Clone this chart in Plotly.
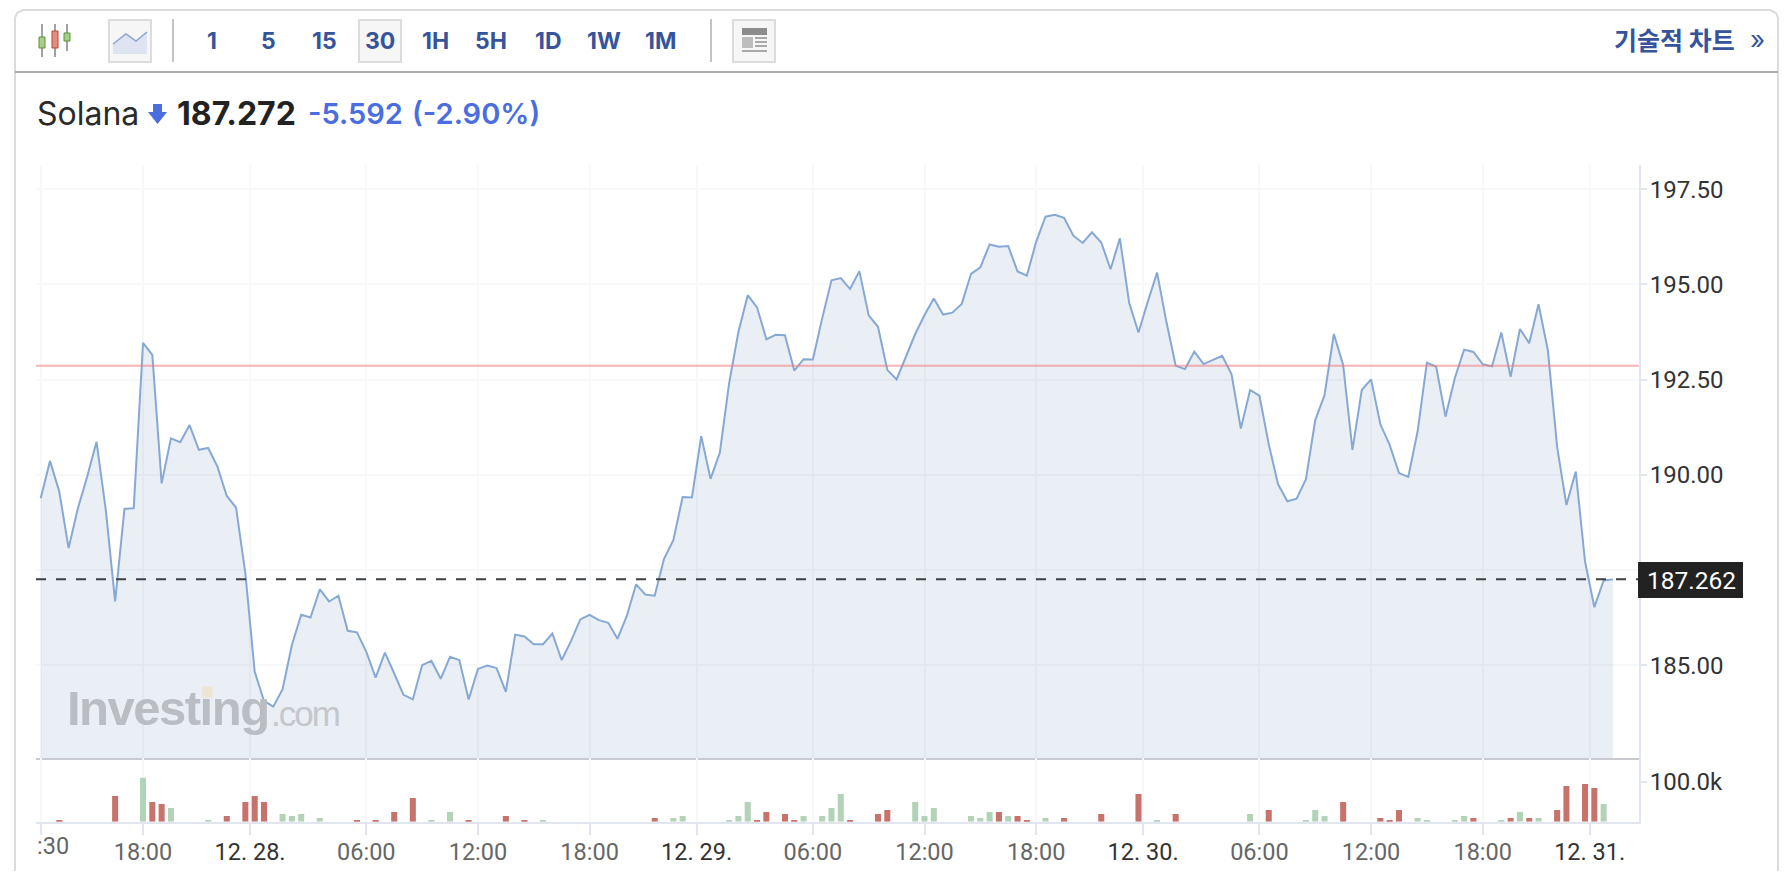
import plotly.graph_objects as go

# closing price, one value per 30 min candle (gaps in trading are not on the axis)
price = [189.39, 190.37, 189.56, 188.08, 189.13, 189.96, 190.87, 189.08, 186.68, 189.11,
         189.13, 193.47, 193.15, 189.78, 190.96, 190.86, 191.31, 190.66, 190.71, 190.22,
         189.45, 189.14, 187.42, 184.84, 184.07, 183.92, 184.38, 185.54, 186.33, 186.26,
         187.00, 186.68, 186.83, 185.91, 185.87, 185.36, 184.68, 185.34, 184.79, 184.23,
         184.11, 185.01, 185.12, 184.65, 185.23, 185.14, 184.11, 184.91, 185.00, 184.93,
         184.31, 185.81, 185.76, 185.56, 185.56, 185.84, 185.14, 185.64, 186.21, 186.33,
         186.19, 186.12, 185.70, 186.30, 187.13, 186.86, 186.83, 187.80, 188.29, 189.42,
         189.41, 191.02, 189.90, 190.59, 192.41, 193.76, 194.72, 194.40, 193.56, 193.68,
         193.67, 192.74, 193.04, 193.03, 194.11, 195.11, 195.17, 194.88, 195.35, 194.19,
         193.89, 192.76, 192.51, 193.11, 193.70, 194.20, 194.63, 194.21, 194.26, 194.49,
         195.28, 195.45, 196.05, 195.99, 196.01, 195.34, 195.23, 196.12, 196.78, 196.83,
         196.75, 196.28, 196.09, 196.37, 196.10, 195.40, 196.21, 194.52, 193.74, 194.55,
         195.31, 194.02, 192.87, 192.78, 193.24, 192.91, 193.03, 193.13, 192.65, 191.22,
         192.23, 192.08, 190.81, 189.76, 189.31, 189.38, 189.89, 191.44, 192.10, 193.70,
         192.89, 190.66, 192.23, 192.51, 191.33, 190.79, 190.05, 189.95, 191.14, 192.95,
         192.84, 191.53, 192.54, 193.29, 193.23, 192.91, 192.85, 193.74, 192.58, 193.83,
         193.46, 194.48, 193.28, 190.74, 189.21, 190.09, 187.73, 186.53, 187.23, 187.26]

# volume in thousands, candle index + value
red_idx = [2, 8, 12, 13, 20, 22, 23, 24, 34, 36, 38, 40, 46, 50, 52, 66, 77, 78, 80, 81, 87, 90, 91,
           103, 105, 106, 110, 114, 118, 122, 132, 140, 144, 145, 146, 154, 158, 160, 163, 164, 166, 167]
red_vol = [4, 64, 49, 44, 14, 49, 64, 49, 4, 4, 24, 59, 4, 14, 4, 9, 4, 24, 19, 4, 4, 19, 29,
           24, 14, 4, 9, 19, 69, 19, 29, 49, 9, 4, 29, 9, 9, 9, 29, 89, 94, 84]
green_idx = [11, 14, 18, 26, 27, 28, 30, 42, 44, 54, 68, 69, 74, 75, 76, 82, 84, 85, 86, 94, 95, 96,
             100, 101, 102, 104, 108, 120, 130, 136, 137, 138, 148, 149, 152, 153, 157, 159, 161, 168]
green_vol = [110, 34, 4, 19, 14, 19, 9, 4, 24, 4, 9, 14, 4, 14, 49, 14, 14, 34, 69, 49, 14, 34,
             14, 9, 24, 14, 9, 4, 19, 4, 29, 14, 9, 4, 4, 14, 4, 24, 9, 44]

time_ticks = [11, 22.5, 35, 47, 59, 70.5, 83, 95, 107, 118.5, 131, 143, 155, 166.5]
time_labels = ['18:00', '12. 28.', '06:00', '12:00', '18:00', '12. 29.', '06:00', '12:00', '18:00',
               '12. 30.', '06:00', '12:00', '18:00', '12. 31.']
price_ticks = [185, 187.5, 190, 192.5, 195, 197.5]
intervals = ['1', '5', '15', '30', '1H', '5H', '1D', '1W', '1M']
interval_x = [212, 268, 324, 380, 435, 491, 548, 604, 660]

prev_close = 192.864
last_price = 187.262

# the page body has an 8px margin, all layout below is in page pixels
OFF = 8
W = 1788 - 2 * OFF
H = 879 - 2 * OFF

BLUE = '#35549c'
GRID = '#f7f8fa'
AXIS = '#e1e6ee'

def px(x):
    return (x - OFF) / W

def py(y):
    return 1 - (y - OFF) / H

def rect(x0, y0, x1, y1, fill=None, line=None, width=1):
    return dict(type='rect', xref='paper', yref='paper', x0=px(x0), x1=px(x1), y0=py(y0), y1=py(y1),
                fillcolor=fill, line=dict(color=line, width=width if line else 0), layer='above')

def seg(x0, y0, x1, y1, color, width=2):
    return dict(type='line', xref='paper', yref='paper', x0=px(x0), x1=px(x1), y0=py(y0), y1=py(y1),
                line=dict(color=color, width=width), layer='above')

def poly(points, fill=None, line=None, width=1):
    d = 'M' + ' L'.join(f'{px(a):.5f},{py(b):.5f}' for a, b in points)
    return dict(type='path', xref='paper', yref='paper', path=d, fillcolor=fill,
                line=dict(color=line, width=width if line else 0), layer='above')

def note(x, y, text, size, color, family='Inter', anchor='left', weight=None):
    f = dict(size=size, color=color, family=family)
    if weight:
        f['weight'] = weight
    return dict(xref='paper', yref='paper', x=px(x), y=py(y), text=text, showarrow=False, xanchor=anchor,
                yanchor='middle', borderpad=0, font=f)

fig = go.Figure()
fig.add_trace(go.Scatter(x=list(range(len(price))), y=price, mode='lines', fill='tozeroy',
                         fillcolor='rgba(51,85,153,0.1)', line=dict(color='#86a9d4', width=2),
                         xaxis='x', yaxis='y', hoverinfo='skip'))
fig.add_trace(go.Bar(x=red_idx, y=red_vol, width=0.65, marker=dict(color='#c8726c', line=dict(width=0)),
                     xaxis='x2', yaxis='y2', hoverinfo='skip'))
fig.add_trace(go.Bar(x=green_idx, y=green_vol, width=0.65, marker=dict(color='#b3d3b8', line=dict(width=0)),
                     xaxis='x2', yaxis='y2', hoverinfo='skip'))

shapes = []
# card border
shapes.append(poly([(15, 879), (15, 18), (17, 13), (23, 10), (1770, 10), (1776, 13), (1778, 18), (1778, 879)],
                   line='#dcdcdc', width=2))
shapes.append(seg(15, 72, 1778, 72, '#ababab', 2))
# candle icon
shapes += [seg(42, 24, 42, 57, '#444', 1), seg(55, 24, 55, 57, '#444', 1), seg(67, 24, 67, 51, '#444', 1)]
shapes += [rect(39, 37, 45, 48, '#a5cf8c', '#5b8f3a', 1), rect(52, 31, 58, 48, '#e58c80', '#b5483c', 1),
           rect(64, 33, 70, 41, '#a5cf8c', '#5b8f3a', 1)]
# line icon button
shapes.append(rect(109, 20, 151, 62, '#f6f6f6', '#dcdcdc', 2))
shapes.append(poly([(113, 44), (126, 34), (136, 41), (147, 32), (147, 54), (113, 54), (113, 44)], fill='#dfe4f3'))
shapes.append(poly([(113, 44), (126, 34), (136, 41), (147, 32)], line='#8ba3cf', width=1.5))
shapes.append(seg(173, 19, 173, 62, '#c4c4c4', 2))
# selected interval
shapes.append(rect(359, 20, 401, 62, '#f6f6f6', '#dcdcdc', 2))
shapes.append(seg(711, 19, 711, 62, '#c4c4c4', 2))
# news icon
shapes.append(rect(733, 20, 775, 62, '#f6f6f6', '#dcdcdc', 2))
shapes.append(rect(742, 28, 767, 35, '#8c8c8c'))
shapes.append(rect(742, 37, 753, 48, '#bdbdbd'))
for yy in (38, 42, 46, 51):
    shapes.append(seg(755 if yy < 50 else 742, yy, 767, yy, '#a8a8a8', 2))
# down arrow next to the name
shapes.append(poly([(153, 104), (162, 104), (162, 112), (167, 112), (157.5, 124), (148, 112), (153, 112), (153, 104)],
                   fill='#4a6de0'))
# reference lines
shapes.append(dict(type='line', xref='x domain', yref='y', x0=0, x1=1, y0=prev_close, y1=prev_close,
                   line=dict(color='rgba(238,120,120,0.55)', width=2), layer='above'))
shapes.append(dict(type='line', xref='x domain', yref='y', x0=0, x1=1, y0=last_price, y1=last_price,
                   line=dict(color='#3c4045', width=2, dash='10px,10px'), layer='above'))
# last price box, sits on top of the 187.50 label
shapes.append(rect(1638, 562, 1743, 598, '#222222'))

texts = []
for lab, x in zip(intervals, interval_x):
    texts.append(note(x, 41, f'<b>{lab}</b>', 23, BLUE, anchor='center'))
texts.append(note(1613, 39, '<b>기술적 차트</b>', 25, BLUE, family='Noto Sans CJK KR'))
texts.append(note(1749, 40, '»', 26, BLUE))
texts.append(note(36, 113, 'Solana', 32, '#2a2a2a'))
texts.append(note(176, 113, '<b>187.272</b>', 32, '#222222'))
texts.append(note(307, 113, '-5.592', 29, '#4a6de0', weight=600))
texts.append(note(411, 113, '(-2.90%)', 29, '#4a6de0', weight=600))
texts.append(note(1691, 580, '187.262', 24.5, '#ffffff', family='Roboto', anchor='center'))
texts.append(note(36, 846, ':30', 23.5, '#666666', family='Roboto'))
# watermark
texts.append(note(66, 708, '<b><span style="letter-spacing:-1.5px">Investing</span></b>', 49, '#babdc2',
                  family='Liberation Sans'))
texts.append(note(270, 713, '<span style="letter-spacing:-2px">.com</span>', 35, '#c4c7cc', family='Liberation Sans'))
dot = note(207.5, 692, ' ', 6, '#eee4d3', anchor='center')
dot.update(bgcolor='#eee4d3', width=9, height=10)
texts.append(dot)

x_left = -0.505
x_right = 171.8
fig.update_layout(
    width=W, height=H, margin=dict(l=0, r=0, t=0, b=0), paper_bgcolor='white', plot_bgcolor='white',
    showlegend=False, barmode='overlay', shapes=shapes, annotations=texts,
    font=dict(family='Roboto', size=24, color='#333333'),
    xaxis=dict(domain=[px(36), px(1639)], range=[x_left, x_right], anchor='y', tickvals=[0] + time_ticks,
               showticklabels=False, ticks='', showgrid=True, gridcolor=GRID, gridwidth=2, zeroline=False,
               showline=True, linecolor='#c9cacf', linewidth=2),
    yaxis=dict(domain=[py(758), py(165)], range=[182.572, 198.136], anchor='x', side='right', tickvals=price_ticks,
               tickformat='.2f', ticks='outside', ticklen=6, tickcolor=AXIS, tickwidth=2, showgrid=True,
               gridcolor=GRID, gridwidth=2, zeroline=False, showline=True, linecolor=AXIS, linewidth=2,
               ticklabelstandoff=-2),
    xaxis2=dict(domain=[px(36), px(1639)], range=[x_left, x_right], anchor='y2', tickvals=[0] + time_ticks,
                ticktext=[''] + [f'<span style="color:#333333">{t}</span>' if '.' in t else t for t in time_labels],
                tickfont=dict(color='#666666', size=23.5), ticks='outside', ticklen=11, tickcolor=AXIS, tickwidth=2,
                showgrid=True, gridcolor=GRID, gridwidth=2, zeroline=False, showline=True, linecolor=AXIS,
                linewidth=2, ticklabelstandoff=-3),
    yaxis2=dict(domain=[py(821.7), py(758)], range=[0, 159], anchor='x2', side='right', tickvals=[100],
                ticktext=['100.0k'], ticks='outside', ticklen=6, tickcolor=AXIS, tickwidth=2, showgrid=False,
                zeroline=False, showline=True, linecolor=AXIS, linewidth=2, ticklabelstandoff=-2),
)

fig.write_html("out.html")
